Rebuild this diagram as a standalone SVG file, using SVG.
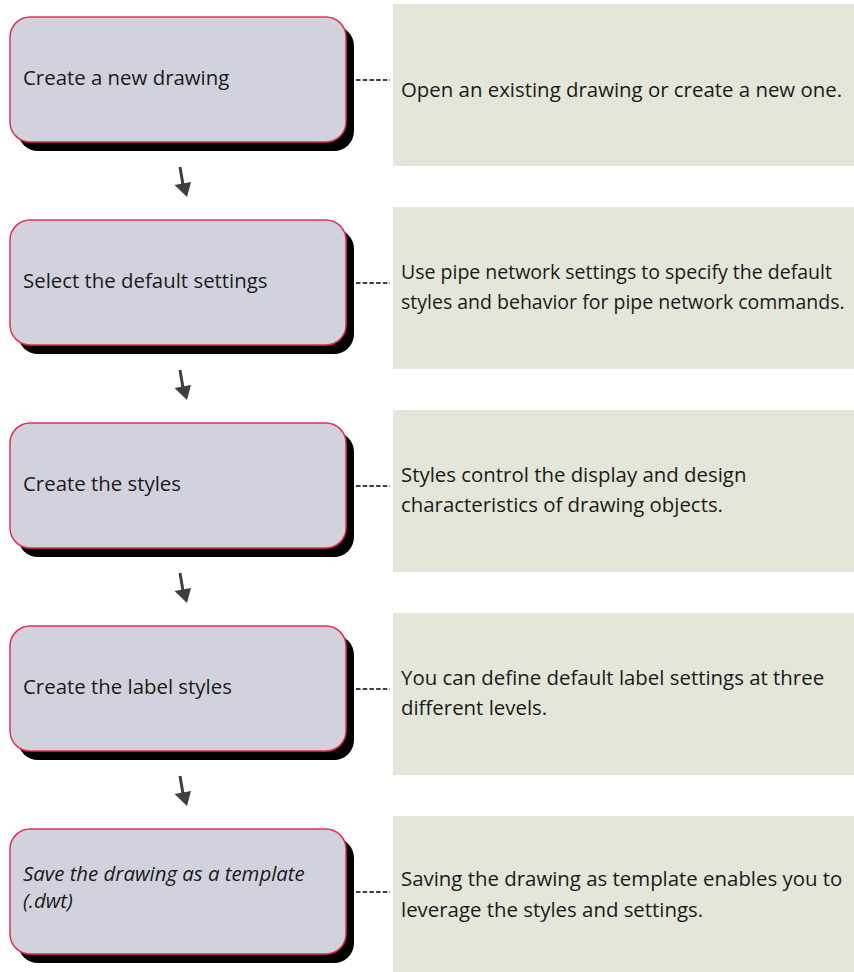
<svg xmlns="http://www.w3.org/2000/svg" width="854" height="972" viewBox="0 0 854 972">
<defs>
<style>
.shadow{fill:#000}
.node{fill:#d2d2de;stroke:#e2304f;stroke-width:1.5}
.note{fill:#e3e6d8}
.t{font-family:"Open Sans","Liberation Sans",sans-serif;font-size:20.4px;fill:#1a1a1a}
.s{font-size:19.5px}
.i{font-style:italic}
.dash{stroke:#000;stroke-width:1.3;stroke-dasharray:4.5 2.2;fill:none}
.arr{fill:#3f3f3f;stroke:#3f3f3f}
</style>
<g id="arrowshape">
<path d="M0,0 L3.2,19" stroke-width="3" fill="none"/>
<polygon points="-5.5,18 11,15 7,30" stroke="none"/>
</g>
</defs>
<rect width="854" height="972" fill="#fff"/>
<g id="notes">
<g id="note1"><rect class="note" x="393" y="4" width="461" height="162"/><text class="t" x="401" y="97">Open an existing drawing or create a new one.</text></g>
<g id="note2"><rect class="note" x="393" y="207" width="461" height="162"/><text class="t s" x="401" y="279">Use pipe network settings to specify the default</text><text class="t s" x="401" y="309">styles and behavior for pipe network commands.</text></g>
<g id="note3"><rect class="note" x="393" y="410" width="461" height="162"/><text class="t" x="401" y="482">Styles control the display and design</text><text class="t" x="401" y="512">characteristics of drawing objects.</text></g>
<g id="note4"><rect class="note" x="393" y="613" width="461" height="162"/><text class="t" x="401" y="685">You can define default label settings at three</text><text class="t" x="401" y="715">different levels.</text></g>
<g id="note5"><rect class="note" x="393" y="816" width="461" height="156"/><text class="t" x="401" y="886">Saving the drawing as template enables you to</text><text class="t" x="401" y="917">leverage the styles and settings.</text></g>
</g>
<g id="node1"><rect class="shadow" x="18" y="26" width="336" height="125" rx="20"/><rect class="node" x="10" y="17" width="336" height="125" rx="20"/><text class="t" x="23" y="85">Create a new drawing</text></g>
<g id="node2"><rect class="shadow" x="18" y="229" width="336" height="125" rx="20"/><rect class="node" x="10" y="220" width="336" height="125" rx="20"/><text class="t" x="23" y="288">Select the default settings</text></g>
<g id="node3"><rect class="shadow" x="18" y="432" width="336" height="125" rx="20"/><rect class="node" x="10" y="423" width="336" height="125" rx="20"/><text class="t" x="23" y="491">Create the styles</text></g>
<g id="node4"><rect class="shadow" x="18" y="635" width="336" height="125" rx="20"/><rect class="node" x="10" y="626" width="336" height="125" rx="20"/><text class="t" x="23" y="694">Create the label styles</text></g>
<g id="node5"><rect class="shadow" x="18" y="838" width="336" height="125" rx="20"/><rect class="node" x="10" y="829" width="336" height="125" rx="20"/><text class="t i" x="23" y="881">Save the drawing as a template</text><text class="t i" x="23" y="908">(.dwt)</text></g>
<g id="connectors">
<line class="dash" x1="356" y1="80" x2="390" y2="80"/>
<line class="dash" x1="356" y1="283" x2="390" y2="283"/>
<line class="dash" x1="356" y1="486" x2="390" y2="486"/>
<line class="dash" x1="356" y1="689" x2="390" y2="689"/>
<line class="dash" x1="356" y1="892" x2="390" y2="892"/>
<use href="#arrowshape" class="arr" x="180" y="167"/>
<use href="#arrowshape" class="arr" x="180" y="370"/>
<use href="#arrowshape" class="arr" x="180" y="573"/>
<use href="#arrowshape" class="arr" x="180" y="776"/>
</g>
</svg>
